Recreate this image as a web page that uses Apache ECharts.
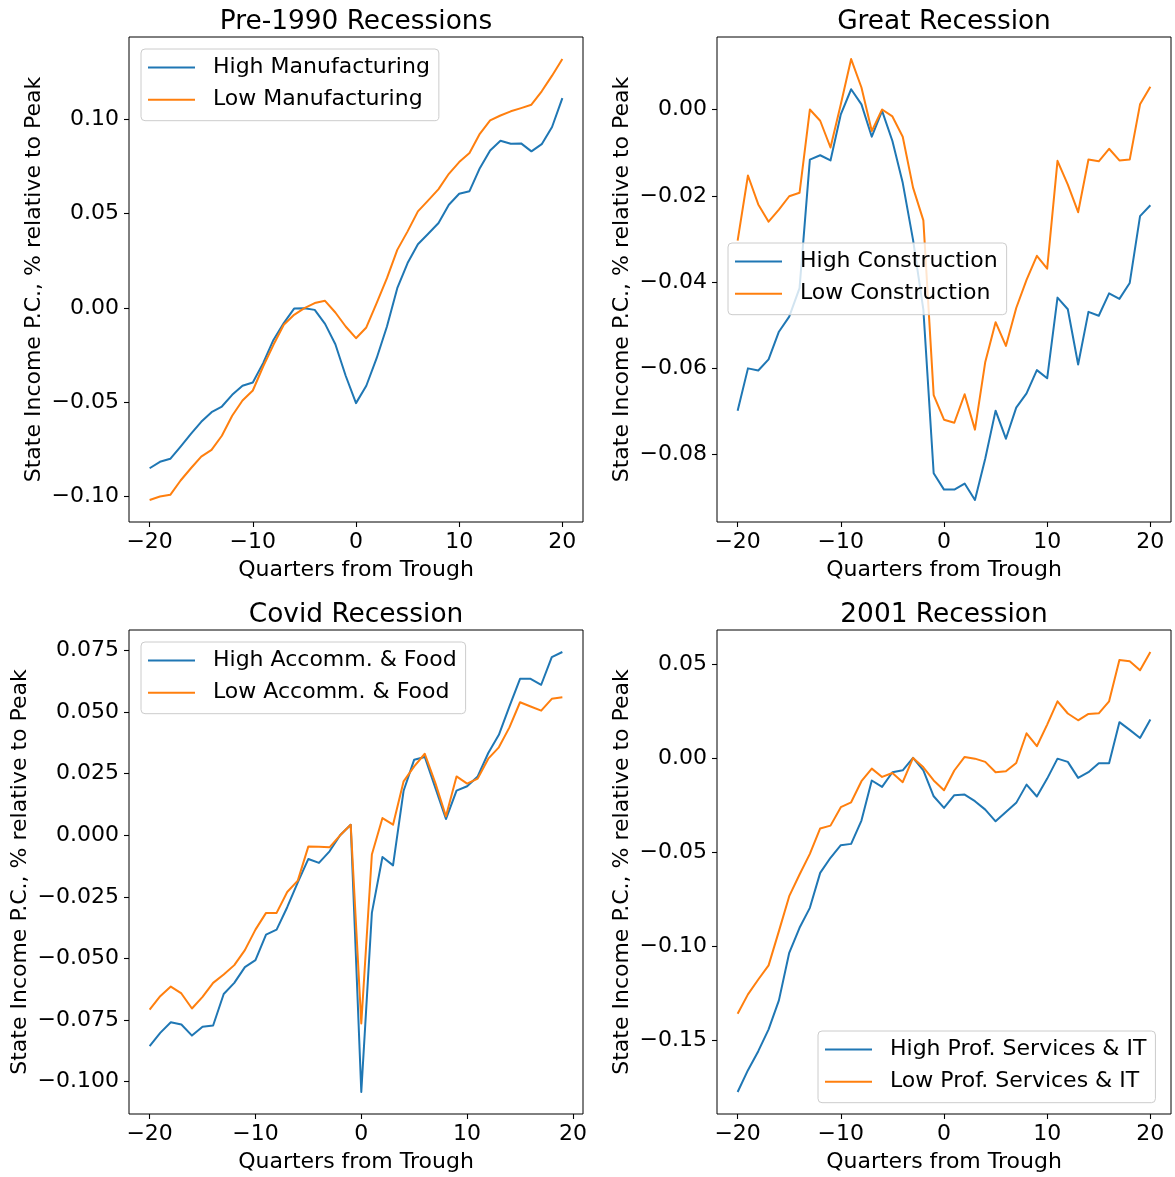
<!DOCTYPE html>
<html><head><meta charset="utf-8">
<script src="https://cdn.jsdelivr.net/npm/echarts@6/dist/echarts.min.js"></script>
<style>html,body{margin:0;padding:0;background:#fff}#c{width:1175px;height:1177px}</style>
</head><body><div id="c"></div>
<script>
// ---------- data ----------
const quarters = [-20,-19,-18,-17,-16,-15,-14,-13,-12,-11,-10,-9,-8,-7,-6,-5,-4,-3,-2,-1,0,1,2,3,4,5,6,7,8,9,10,11,12,13,14,15,16,17,18,19,20];
const quartersCovid = [-20,-19,-18,-17,-16,-15,-14,-13,-12,-11,-10,-9,-8,-7,-6,-5,-4,-3,-2,-1,0,1,2,3,4,5,6,7,8,9,10,11,12,13,14,15,16,17,18,19];
const xTicks = [-20,-10,0,10,20];

const pre1990High = [-0.0850,-0.0816,-0.0800,-0.0735,-0.0668,-0.0604,-0.0553,-0.0523,-0.0461,-0.0413,-0.0396,-0.0293,-0.0170,-0.0081,-0.0004,-0.0002,-0.0011,-0.0085,-0.0193,-0.0360,
  -0.0505,-0.0413,-0.0267,-0.0099,0.0104,0.0237,0.0337,0.0392,0.0449,0.0546,0.0604,0.0618,0.0740,0.0834,0.0885,0.0869,0.0871,0.0829,0.0867,0.0958,0.1111];
const pre1990Low = [-0.1018,-0.1000,-0.0991,-0.0915,-0.0850,-0.0788,-0.0753,-0.0678,-0.0572,-0.0491,-0.0438,-0.0311,-0.0196,-0.0090,-0.0037,-0.0002,0.0025,0.0037,-0.0025,-0.0099,
  -0.0161,-0.0104,0.0025,0.0157,0.0307,0.0405,0.0511,0.0569,0.0629,0.0710,0.0772,0.0820,0.0922,0.0993,0.1019,0.1041,0.1058,0.1076,0.1147,0.1230,0.1318];

const greatHigh = [-0.0698,-0.0600,-0.0605,-0.0579,-0.0515,-0.0480,-0.0414,-0.0116,-0.0106,-0.0118,-0.0011,0.0047,0.0012,-0.0063,-0.0003,-0.0073,-0.0170,-0.0302,-0.0464,-0.0843,
  -0.0881,-0.0881,-0.0867,-0.0905,-0.0809,-0.0698,-0.0763,-0.0691,-0.0658,-0.0604,-0.0623,-0.0436,-0.0463,-0.0591,-0.0469,-0.0478,-0.0426,-0.0439,-0.0402,-0.0247,-0.0222];
const greatLow = [-0.0304,-0.0153,-0.0220,-0.0260,-0.0232,-0.0201,-0.0193,0.0000,-0.0026,-0.0088,0.0012,0.0117,0.0051,-0.0050,0.0000,-0.0016,-0.0063,-0.0181,-0.0257,-0.0662,
  -0.0719,-0.0726,-0.0660,-0.0742,-0.0585,-0.0493,-0.0548,-0.0460,-0.0395,-0.0339,-0.0369,-0.0119,-0.0174,-0.0238,-0.0116,-0.0120,-0.0091,-0.0118,-0.0116,0.0012,0.0053];

const covidHigh = [-0.0856,-0.0802,-0.0759,-0.0768,-0.0813,-0.0777,-0.0772,-0.0644,-0.0599,-0.0535,-0.0507,-0.0403,-0.0383,-0.0292,-0.0191,-0.0096,-0.0112,-0.0065,0.0000,0.0043,
  -0.1042,-0.0315,-0.0088,-0.0122,0.0181,0.0307,0.0318,0.0192,0.0066,0.0181,0.0199,0.0239,0.0334,0.0408,0.0523,0.0635,0.0635,0.0611,0.0723,0.0744];
const covidLow = [-0.0708,-0.0653,-0.0614,-0.0642,-0.0703,-0.0656,-0.0599,-0.0565,-0.0527,-0.0466,-0.0383,-0.0315,-0.0315,-0.0230,-0.0184,-0.0045,-0.0047,-0.0049,0.0000,0.0043,
  -0.0764,-0.0078,0.0070,0.0043,0.0219,0.0280,0.0331,0.0212,0.0077,0.0239,0.0210,0.0230,0.0311,0.0357,0.0438,0.0540,0.0523,0.0506,0.0554,0.0560];

const r2001High = [-0.1776,-0.1660,-0.1559,-0.1443,-0.1289,-0.1036,-0.0903,-0.0797,-0.0611,-0.0531,-0.0464,-0.0457,-0.0333,-0.0120,-0.0154,-0.0076,-0.0066,0.0000,-0.0066,-0.0204,
  -0.0266,-0.0198,-0.0195,-0.0230,-0.0275,-0.0337,-0.0287,-0.0239,-0.0142,-0.0205,-0.0110,-0.0004,-0.0021,-0.0106,-0.0076,-0.0028,-0.0028,0.0190,0.0149,0.0106,0.0204];
const r2001Low = [-0.1360,-0.1257,-0.1178,-0.1103,-0.0921,-0.0735,-0.0620,-0.0510,-0.0375,-0.0360,-0.0262,-0.0236,-0.0124,-0.0057,-0.0101,-0.0080,-0.0129,0.0000,-0.0050,-0.0120,
  -0.0172,-0.0067,0.0005,-0.0004,-0.0021,-0.0076,-0.0071,-0.0027,0.0131,0.0062,0.0177,0.0301,0.0236,0.0200,0.0234,0.0237,0.0301,0.0521,0.0514,0.0466,0.0563];

const pre1990YTicks = [-0.10,-0.05,0.00,0.05,0.10];
const greatYTicks = [-0.08,-0.06,-0.04,-0.02,0.00];
const covidYTicks = [-0.100,-0.075,-0.050,-0.025,0.000,0.025,0.050,0.075];
const r2001YTicks = [-0.15,-0.10,-0.05,0.00,0.05];

const titles = ['Pre-1990 Recessions','Great Recession','Covid Recession','2001 Recession'];
const highNames = ['High Manufacturing','High Construction','High Accomm. & Food','High Prof. Services & IT'];
const lowNames = ['Low Manufacturing','Low Construction','Low Accomm. & Food','Low Prof. Services & IT'];
const xLabel = 'Quarters from Trough';
const yLabel = 'State Income P.C., % relative to Peak';

// ---------- layout ----------
const FONT = 'DejaVu Sans';
const BLUE = '#1f77b4', ORANGE = '#ff7f0e';
const panels = [
  {x: quarters, high: pre1990High, low: pre1990Low, yTicks: pre1990YTicks, dec: 2,
   grid: {left: 129, top: 37, width: 454, height: 485}, legend: {left: 141, top: 49}, titleTop: 9.5, nameGap: 84},
  {x: quarters, high: greatHigh, low: greatLow, yTicks: greatYTicks, dec: 2,
   grid: {left: 717, top: 37, width: 454, height: 485}, legend: {left: 728, top: 243}, titleTop: 9.5, nameGap: 84},
  {x: quartersCovid, high: covidHigh, low: covidLow, yTicks: covidYTicks, dec: 3,
   grid: {left: 129, top: 630, width: 454, height: 484}, legend: {left: 141, top: 642}, titleTop: 602.5, nameGap: 98},
  {x: quarters, high: r2001High, low: r2001Low, yTicks: r2001YTicks, dec: 2,
   grid: {left: 717, top: 630, width: 454, height: 484}, legend: {left: 818, top: 1031}, titleTop: 602.5, nameGap: 84}
];

function fmtNum(v, dec) {
  const s = Math.abs(v).toFixed(dec);
  return (v < -1e-12 ? '\u2212' : '') + s;
}
function margins(arr) {
  const mn = Math.min(...arr), mx = Math.max(...arr);
  const pad = 0.05 * (mx - mn);
  return [mn - pad, mx + pad];
}

const option = {
  animation: false,
  backgroundColor: '#fff',
  textStyle: {fontFamily: FONT},
  title: [], grid: [], xAxis: [], yAxis: [], legend: [], series: []
};

panels.forEach((p, k) => {
  const g = p.grid;
  option.grid.push({left: g.left, top: g.top, width: g.width, height: g.height,
    show: true, borderColor: '#000', borderWidth: 1, containLabel: false});
  option.title.push({text: titles[k], left: g.left + g.width / 2, top: p.titleTop, textAlign: 'center', padding: 0,
    textStyle: {fontFamily: FONT, fontSize: 26.4, fontWeight: 'normal', color: '#000'}});
  const xr = margins(p.x);
  option.xAxis.push({type: 'value', gridIndex: k, min: xr[0], max: xr[1],
    name: xLabel, nameLocation: 'middle', nameGap: 37,
    nameTextStyle: {fontFamily: FONT, fontSize: 22, color: '#000'},
    axisLine: {show: false, onZero: false},
    axisTick: {show: true, length: 5, customValues: xTicks, lineStyle: {color: '#000', width: 1.1}},
    axisLabel: {customValues: xTicks, margin: 9, fontFamily: FONT, fontSize: 22, color: '#000',
      formatter: v => (v < 0 ? '\u2212' : '') + Math.abs(v)},
    splitLine: {show: false}});
  const yr = margins(p.high.concat(p.low));
  option.yAxis.push({type: 'value', gridIndex: k, min: yr[0], max: yr[1],
    name: yLabel, nameLocation: 'middle', nameGap: p.nameGap, nameRotate: 90,
    nameTextStyle: {fontFamily: FONT, fontSize: 22, color: '#000'},
    axisLine: {show: false, onZero: false},
    axisTick: {show: true, length: 5, customValues: p.yTicks, lineStyle: {color: '#000', width: 1.1}},
    axisLabel: {customValues: p.yTicks, margin: 10, fontFamily: FONT, fontSize: 22, color: '#000',
      padding: [4, 0, 0, 0], formatter: v => fmtNum(v, p.dec)},
    splitLine: {show: false}});
  [[highNames[k], p.high, BLUE], [lowNames[k], p.low, ORANGE]].forEach(([nm, vals, col]) => {
    option.series.push({type: 'line', name: nm, xAxisIndex: k, yAxisIndex: k,
      data: p.x.map((q, i) => [q, vals[i]]), showSymbol: false, symbol: 'none',
      color: col, lineStyle: {width: 2, color: col, join: 'round'}, z: 2});
  });
  option.legend.push({left: p.legend.left, top: p.legend.top, orient: 'vertical',
    data: [highNames[k], lowNames[k]], icon: 'rect', itemWidth: 47, itemHeight: 2, itemGap: 4.3,
    padding: [4.4, 9, 7, 7], backgroundColor: 'rgba(255,255,255,0.8)', borderColor: '#cccccc',
    borderWidth: 1, borderRadius: 4, selectedMode: false,
    textStyle: {fontFamily: FONT, fontSize: 22, color: '#000', lineHeight: 22, padding: [6, 0, 0, 13]}});
});

const chart = echarts.init(document.getElementById('c'), null, {renderer: 'canvas', width: 1175, height: 1177});
chart.setOption(option);
</script>
</body></html>
